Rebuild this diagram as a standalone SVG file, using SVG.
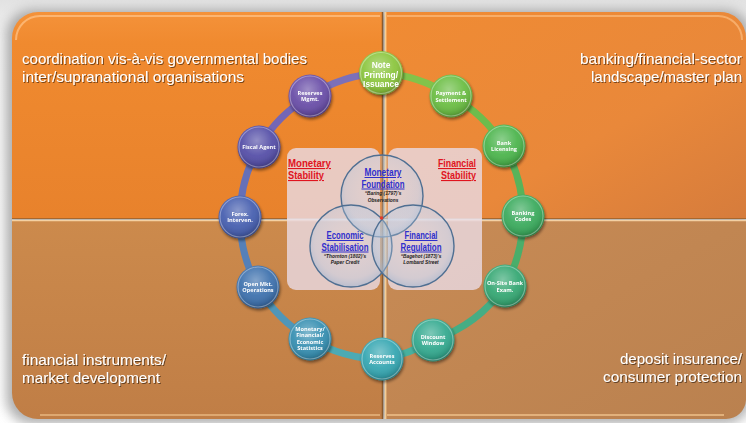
<svg xmlns="http://www.w3.org/2000/svg" width="746" height="423" viewBox="0 0 746 423">
<defs>
<style>
.corner{font-family:"Liberation Sans","Open Sans",sans-serif;font-size:14.5px;fill:#ffffff;}
.nt{font-family:"Open Sans","Liberation Sans",sans-serif;font-size:5.6px;font-weight:bold;fill:#ffffff;text-anchor:middle;}
.ntb{font-family:"Liberation Sans","Open Sans",sans-serif;font-size:8.4px;font-weight:bold;fill:#ffffff;text-anchor:middle;}
.stab{font-family:"Liberation Sans","Open Sans",sans-serif;font-size:11px;font-weight:bold;fill:#E0141E;text-decoration:underline;}
.venn{font-family:"Liberation Sans","Open Sans",sans-serif;font-size:10px;font-weight:bold;fill:#2F2FCC;text-decoration:underline;text-anchor:middle;}
.ref{font-family:"Liberation Sans","Open Sans",sans-serif;font-size:4.8px;font-weight:bold;font-style:italic;fill:#222222;text-anchor:middle;}
.ring{fill:none;stroke-width:7;stroke-linecap:round;}
.node .gl{fill:url(#gloss);}
.node .rim{fill:none;stroke:#ffffff;stroke-opacity:0.35;stroke-width:1.2;}
.vc{fill:url(#glass);stroke:#4F6F92;stroke-width:1.4;}
</style>
<linearGradient id="gTL" x1="0" y1="0" x2="0" y2="1"><stop offset="0" stop-color="#F4923A"/><stop offset="0.15" stop-color="#F08A2F"/><stop offset="1" stop-color="#E8822C"/></linearGradient>
<linearGradient id="gTR" x1="0" y1="0" x2="1" y2="1"><stop offset="0" stop-color="#F08B33"/><stop offset="0.6" stop-color="#E9883A"/><stop offset="1" stop-color="#D67C3C"/></linearGradient>
<linearGradient id="gBL" x1="0" y1="0" x2="0" y2="1"><stop offset="0" stop-color="#CC8A4C"/><stop offset="1" stop-color="#C07E46"/></linearGradient>
<linearGradient id="gBR" x1="0" y1="0" x2="1" y2="1"><stop offset="0" stop-color="#C88B55"/><stop offset="1" stop-color="#BA814F"/></linearGradient>
<linearGradient id="gBg" x1="0" y1="0" x2="0" y2="1"><stop offset="0" stop-color="#E2E2E2"/><stop offset="0.1" stop-color="#F4F4F4"/><stop offset="1" stop-color="#FFFFFF"/></linearGradient>
<radialGradient id="gloss" cx="0.45" cy="0.35" r="0.65">
<stop offset="0" stop-color="#ffffff" stop-opacity="0.35"/>
<stop offset="0.55" stop-color="#ffffff" stop-opacity="0.05"/>
<stop offset="0.85" stop-color="#000000" stop-opacity="0.12"/>
<stop offset="1" stop-color="#000000" stop-opacity="0.3"/>
</radialGradient>
<radialGradient id="glass" cx="0.5" cy="0.45" r="0.55">
<stop offset="0" stop-color="#DCE6F2" stop-opacity="0.15"/>
<stop offset="0.8" stop-color="#B8CBE2" stop-opacity="0.35"/>
<stop offset="1" stop-color="#9DB4D2" stop-opacity="0.6"/>
</radialGradient>
<filter id="sh" x="-20%" y="-20%" width="140%" height="140%"><feGaussianBlur in="SourceAlpha" stdDeviation="1.5"/><feOffset dx="1" dy="2" result="b"/><feComponentTransfer><feFuncA type="linear" slope="0.45"/></feComponentTransfer><feMerge><feMergeNode/><feMergeNode in="SourceGraphic"/></feMerge></filter>
<filter id="bgsh" x="-5%" y="-5%" width="110%" height="110%"><feGaussianBlur stdDeviation="6"/></filter>
<filter id="tsh" x="-5%" y="-20%" width="110%" height="140%"><feGaussianBlur in="SourceAlpha" stdDeviation="0.6"/><feOffset dx="0.8" dy="0.8" result="b"/><feComponentTransfer><feFuncA type="linear" slope="0.5"/></feComponentTransfer><feMerge><feMergeNode/><feMergeNode in="SourceGraphic"/></feMerge></filter>
</defs>

<rect x="0" y="0" width="746" height="423" fill="url(#gBg)"/>
<rect x="6" y="10" width="745" height="414" rx="26" fill="#7a7a7a" opacity="0.6" filter="url(#bgsh)"/>

<g id="quadrants">
<path d="M12,38 A26,26 0 0 1 38,12 L382,12 L382,218 L12,218 Z" fill="url(#gTL)"/>
<path d="M385,12 L718,12 A26,26 0 0 1 746,38 L746,218 L385,218 Z" fill="url(#gTR)"/>
<path d="M12,220 L382,220 L382,419 L38,419 A26,26 0 0 1 12,393 Z" fill="url(#gBL)"/>
<path d="M385,220 L746,220 L746,400 A20,20 0 0 1 726,419 L385,419 Z" fill="url(#gBR)"/>
<path d="M16,40 A24,24 0 0 1 40,16 L380,16" fill="none" stroke="#FFC58A" stroke-width="2" opacity="0.7"/>
<path d="M387,16 L716,16 A24,24 0 0 1 742,40" fill="none" stroke="#FFC58A" stroke-width="2" opacity="0.6"/>
<path d="M40,415 L380,415" fill="none" stroke="#F2C58E" stroke-width="2" opacity="0.6"/>
<path d="M387,415 L724,415" fill="none" stroke="#F2C58E" stroke-width="2" opacity="0.7"/>
<line x1="382.5" y1="12" x2="382.5" y2="419" stroke="#8A5A2C" stroke-width="1.5"/>
<line x1="385.5" y1="12" x2="385.5" y2="419" stroke="#FFD9A0" stroke-width="1.8" opacity="0.85"/>
<line x1="12" y1="218.5" x2="746" y2="218.5" stroke="#A8672E" stroke-width="1"/>
<line x1="12" y1="220.5" x2="746" y2="220.5" stroke="#FFE2B8" stroke-width="1.5" opacity="0.8"/>
</g>

<g id="corner-texts" filter="url(#tsh)">
<text class="corner" x="22" y="64" textLength="285" lengthAdjust="spacingAndGlyphs">coordination vis-à-vis governmental bodies</text>
<text class="corner" x="22" y="82" textLength="222" lengthAdjust="spacingAndGlyphs">inter/supranational organisations</text>
<text class="corner" x="580" y="64" textLength="162" lengthAdjust="spacingAndGlyphs">banking/financial-sector</text>
<text class="corner" x="591" y="82" textLength="151" lengthAdjust="spacingAndGlyphs">landscape/master plan</text>
<text class="corner" x="22" y="365" textLength="144" lengthAdjust="spacingAndGlyphs">financial instruments/</text>
<text class="corner" x="22" y="383" textLength="138" lengthAdjust="spacingAndGlyphs">market development</text>
<text class="corner" x="620" y="364" textLength="122" lengthAdjust="spacingAndGlyphs">deposit insurance/</text>
<text class="corner" x="603" y="382" textLength="139" lengthAdjust="spacingAndGlyphs">consumer protection</text>
</g>

<g id="venn">
<rect x="287" y="148" width="93" height="142" rx="9" fill="#E9D9E2" opacity="0.82"/>
<rect x="388" y="148" width="94" height="142" rx="9" fill="#E9D9E2" opacity="0.82"/>
<line x1="287" y1="219" x2="482" y2="219" stroke="#ffffff" stroke-width="1" opacity="0.5"/>
<circle class="vc" cx="382" cy="196" r="41"/>
<circle class="vc" cx="351" cy="246" r="41"/>
<circle class="vc" cx="413" cy="246" r="41"/>
<circle cx="381.5" cy="218" r="1.8" fill="#E23A2A"/>
<text class="stab" x="288" y="167" textLength="43" lengthAdjust="spacingAndGlyphs">Monetary</text>
<text class="stab" x="288" y="179" textLength="36" lengthAdjust="spacingAndGlyphs">Stability</text>
<text class="stab" x="438" y="167" textLength="38" lengthAdjust="spacingAndGlyphs">Financial</text>
<text class="stab" x="441" y="179" textLength="35" lengthAdjust="spacingAndGlyphs">Stability</text>
<text class="venn" x="383" y="176" textLength="37" lengthAdjust="spacingAndGlyphs">Monetary</text>
<text class="venn" x="383" y="187.5" textLength="43" lengthAdjust="spacingAndGlyphs">Foundation</text>
<text class="ref" x="383" y="195">“Baring (1797)’s</text>
<text class="ref" x="383" y="201.5">Observations</text>
<text class="venn" x="345" y="239" textLength="37" lengthAdjust="spacingAndGlyphs">Economic</text>
<text class="venn" x="345" y="250.5" textLength="47" lengthAdjust="spacingAndGlyphs">Stabilisation</text>
<text class="ref" x="345" y="257.5">“Thornton (1802)’s</text>
<text class="ref" x="345" y="264">Paper Credit</text>
<text class="venn" x="421" y="239" textLength="33" lengthAdjust="spacingAndGlyphs">Financial</text>
<text class="venn" x="421" y="250.5" textLength="41" lengthAdjust="spacingAndGlyphs">Regulation</text>
<text class="ref" x="421" y="257.5">“Bagehot (1873)’s</text>
<text class="ref" x="421" y="264">Lombard Street</text>
</g>

<g id="connectors">
<path class="ring" stroke="#82C34A" d="M381,73 A142,142 0 0 1 451,96"/>
<path class="ring" stroke="#6DBC4C" d="M451,96 A142,142 0 0 1 504,146"/>
<path class="ring" stroke="#58B35A" d="M504,146 A142,142 0 0 1 523,216"/>
<path class="ring" stroke="#4AAE6A" d="M523,216 A142,142 0 0 1 505,286"/>
<path class="ring" stroke="#45AD84" d="M505,286 A142,142 0 0 1 433,340"/>
<path class="ring" stroke="#48B09E" d="M433,340 A142,142 0 0 1 382,359"/>
<path class="ring" stroke="#4CAAB4" d="M382,359 A142,142 0 0 1 310,339"/>
<path class="ring" stroke="#5096B8" d="M310,339 A142,142 0 0 1 258,287"/>
<path class="ring" stroke="#5580B8" d="M258,287 A142,142 0 0 1 240,217"/>
<path class="ring" stroke="#6670B8" d="M240,217 A142,142 0 0 1 259,147"/>
<path class="ring" stroke="#7466B6" d="M259,147 A142,142 0 0 1 310,96"/>
<path class="ring" stroke="#7C70B8" d="M310,96 A142,142 0 0 1 381,73"/>
</g>

<g id="n-note" class="node" filter="url(#sh)"><circle cx="381" cy="73" r="22" fill="#8CC63F"/><circle class="gl" cx="381" cy="73" r="22"/><circle class="rim" cx="381" cy="73" r="20.5"/>
<text class="ntb" x="381" y="68">Note</text><text class="ntb" x="381" y="77.5">Printing/</text><text class="ntb" x="381" y="87">Issuance</text></g>
<g id="n-payment" class="node" filter="url(#sh)"><circle cx="451" cy="96" r="21.5" fill="#6CBE45"/><circle class="gl" cx="451" cy="96" r="21.5"/><circle class="rim" cx="451" cy="96" r="20"/>
<text class="nt" x="451" y="95">Payment &amp;</text><text class="nt" x="451" y="101.5">Settlement</text></g>
<g id="n-licensing" class="node" filter="url(#sh)"><circle cx="504" cy="146" r="21.5" fill="#4DB54E"/><circle class="gl" cx="504" cy="146" r="21.5"/><circle class="rim" cx="504" cy="146" r="20"/>
<text class="nt" x="504" y="144.5">Bank</text><text class="nt" x="504" y="151">Licensing</text></g>
<g id="n-codes" class="node" filter="url(#sh)"><circle cx="523" cy="216" r="21.5" fill="#3CAB5E"/><circle class="gl" cx="523" cy="216" r="21.5"/><circle class="rim" cx="523" cy="216" r="20"/>
<text class="nt" x="523" y="214.5">Banking</text><text class="nt" x="523" y="221">Codes</text></g>
<g id="n-onsite" class="node" filter="url(#sh)"><circle cx="505" cy="286" r="21.5" fill="#37A874"/><circle class="gl" cx="505" cy="286" r="21.5"/><circle class="rim" cx="505" cy="286" r="20"/>
<text class="nt" x="505" y="285">On-Site Bank</text><text class="nt" x="505" y="291.5">Exam.</text></g>
<g id="n-discount" class="node" filter="url(#sh)"><circle cx="433" cy="340" r="21.5" fill="#35AA90"/><circle class="gl" cx="433" cy="340" r="21.5"/><circle class="rim" cx="433" cy="340" r="20"/>
<text class="nt" x="433" y="338.5">Discount</text><text class="nt" x="433" y="345">Window</text></g>
<g id="n-resacc" class="node" filter="url(#sh)"><circle cx="382" cy="359" r="21.5" fill="#37A7B2"/><circle class="gl" cx="382" cy="359" r="21.5"/><circle class="rim" cx="382" cy="359" r="20"/>
<text class="nt" x="382" y="357.5">Reserves</text><text class="nt" x="382" y="364">Accounts</text></g>
<g id="n-stats" class="node" filter="url(#sh)"><circle cx="310" cy="339" r="21.5" fill="#3890B2"/><circle class="gl" cx="310" cy="339" r="21.5"/><circle class="rim" cx="310" cy="339" r="20"/>
<text class="nt" x="310" y="330.5">Monetary/</text><text class="nt" x="310" y="337">Financial/</text><text class="nt" x="310" y="343.5">Economic</text><text class="nt" x="310" y="350">Statistics</text></g>
<g id="n-omo" class="node" filter="url(#sh)"><circle cx="258" cy="287" r="21.5" fill="#3F72AE"/><circle class="gl" cx="258" cy="287" r="21.5"/><circle class="rim" cx="258" cy="287" r="20"/>
<text class="nt" x="258" y="285.5">Open Mkt.</text><text class="nt" x="258" y="292">Operations</text></g>
<g id="n-forex" class="node" filter="url(#sh)"><circle cx="240" cy="217" r="21.5" fill="#4860B0"/><circle class="gl" cx="240" cy="217" r="21.5"/><circle class="rim" cx="240" cy="217" r="20"/>
<text class="nt" x="240" y="215.5">Forex.</text><text class="nt" x="240" y="222">Interven.</text></g>
<g id="n-fiscal" class="node" filter="url(#sh)"><circle cx="259" cy="147" r="21.5" fill="#5650A8"/><circle class="gl" cx="259" cy="147" r="21.5"/><circle class="rim" cx="259" cy="147" r="20"/>
<text class="nt" x="259" y="149">Fiscal Agent</text></g>
<g id="n-resmgmt" class="node" filter="url(#sh)"><circle cx="310" cy="96" r="21.5" fill="#6A4FA8"/><circle class="gl" cx="310" cy="96" r="21.5"/><circle class="rim" cx="310" cy="96" r="20"/>
<text class="nt" x="310" y="94.5">Reserves</text><text class="nt" x="310" y="101">Mgmt.</text></g>
</svg>
